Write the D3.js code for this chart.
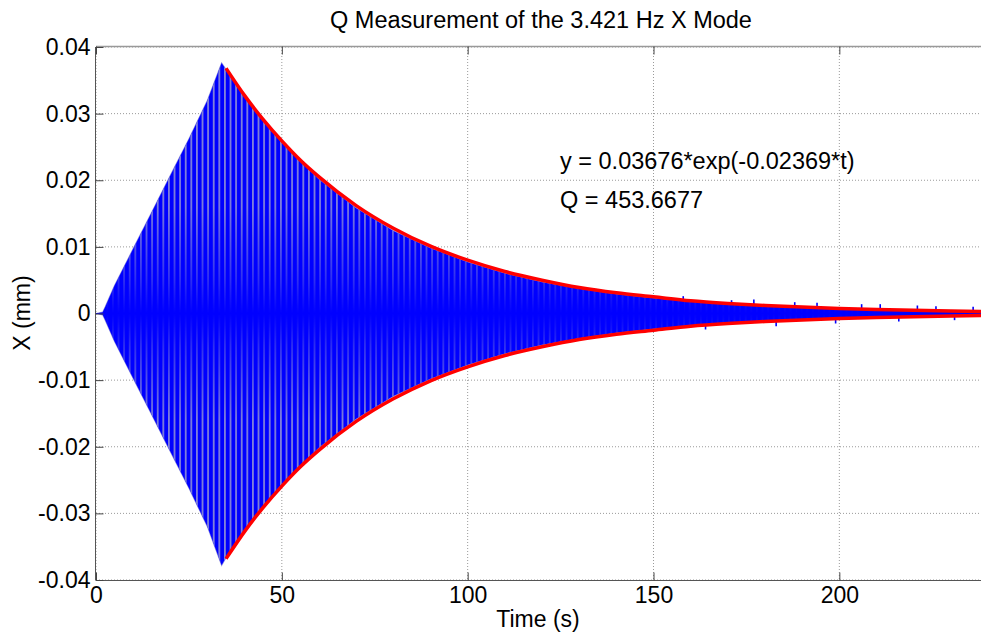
<!DOCTYPE html>
<html><head><meta charset="utf-8">
<script src="https://cdn.jsdelivr.net/npm/d3@7"></script>
<style>
html,body{margin:0;padding:0;background:#fff;overflow:hidden}
text{font-family:"Liberation Sans",Arial,sans-serif;fill:#000}
</style></head>
<body>
<svg id="chart" width="981" height="635"></svg>
<script>
// ---- data ----
const title = "Q Measurement of the 3.421 Hz X Mode";
const xLabel = "Time (s)";
const yLabel = "X (mm)";
const fitText = "y = 0.03676*exp(-0.02369*t)";
const qText = "Q = 453.6677";
const xTicks = [0, 50, 100, 150, 200];
const xTickLabels = ["0", "50", "100", "150", "200"];
const yTicks = [-0.04, -0.03, -0.02, -0.01, 0, 0.01, 0.02, 0.03, 0.04];
const yTickLabels = ["-0.04", "-0.03", "-0.02", "-0.01", "0", "0.01", "0.02", "0.03", "0.04"];

// envelope of the measured (blue) oscillation, mm
const envTime  = [0, 1.8, 2.5, 5, 10, 15, 20, 25, 30, 33.8, 35, 40, 50, 60, 70, 80, 90, 100, 110, 120, 130, 140, 150, 160, 170, 180, 190, 200, 220, 240];
const envUpper = [0, 0.0002, 0.0010, 0.0042, 0.0097, 0.0152, 0.0207, 0.0262, 0.0320, 0.0376, 0.0366, 0.0325, 0.0256, 0.0201, 0.0158, 0.0124, 0.0098, 0.0077, 0.0060, 0.0047, 0.0037, 0.0029, 0.0023, 0.0018, 0.0014, 0.0011, 0.0009, 0.0007, 0.0005, 0.0004];
const envLower = [0, -0.0002, -0.0010, -0.0042, -0.0097, -0.0152, -0.0207, -0.0262, -0.0320, -0.0378, -0.0366, -0.0325, -0.0256, -0.0201, -0.0158, -0.0124, -0.0098, -0.0077, -0.0060, -0.0047, -0.0037, -0.0029, -0.0023, -0.0018, -0.0014, -0.0011, -0.0009, -0.0007, -0.0005, -0.0004];

// noise spikes visible in the tail
const spikeTime  = [158, 164, 171, 177, 183, 188, 194, 199, 206, 211, 216, 221, 226, 231, 236];
const spikeValue = [0.0026, -0.0024, 0.0020, 0.0021, -0.0019, 0.0017, 0.0016, -0.0015, 0.0014, 0.0014, -0.0012, 0.0012, 0.0011, -0.0010, 0.0010];

// fitted exponential envelope (red), mm
const fitTime  = [35, 40, 45, 50, 55, 60, 70, 80, 90, 100, 110, 120, 130, 140, 150, 160, 170, 180, 190, 200, 210, 220, 230, 240];
const fitUpper = [0.0368, 0.0327, 0.0291, 0.0259, 0.0230, 0.0205, 0.0162, 0.0128, 0.0101, 0.0080, 0.0063, 0.0050, 0.0039, 0.0031, 0.0025, 0.0019, 0.0015, 0.0012, 0.00096, 0.00076, 0.00060, 0.00047, 0.00037, 0.00029];

// ---- drawing ----
const svg = d3.select("#chart");
const L = 96, T = 47, B = 580, R = 988;
const x = d3.scaleLinear().domain([0, 240]).range([L, R]);
const y = d3.scaleLinear().domain([-0.04, 0.04]).range([B, T]);

const defs = svg.append("defs");
defs.append("clipPath").attr("id", "plotclip").append("rect")
  .attr("x", L).attr("y", T).attr("width", R - L).attr("height", B - T);
const pat = defs.append("pattern").attr("id", "stripes")
  .attr("patternUnits", "userSpaceOnUse").attr("width", 5.6).attr("height", 10);
pat.append("rect").attr("x", 0).attr("width", 1.8).attr("height", 10).attr("fill", "#8585d8");
// vertical fade of stripes towards zero line
const grad = defs.append("linearGradient").attr("id", "fade")
  .attr("gradientUnits", "userSpaceOnUse").attr("x1", 0).attr("x2", 0).attr("y1", T).attr("y2", B);
[[0, 1], [0.3, 0.95], [0.44, 0.35], [0.5, 0], [0.56, 0.35], [0.7, 0.95], [1, 1]].forEach(([o, a]) =>
  grad.append("stop").attr("offset", o).attr("stop-color", "#fff").attr("stop-opacity", a));
defs.append("mask").attr("id", "fademask").attr("maskUnits", "userSpaceOnUse")
  .attr("x", 0).attr("y", 0).attr("width", 981).attr("height", 635)
  .append("rect").attr("x", L).attr("y", T).attr("width", R - L).attr("height", B - T).attr("fill", "url(#fade)");

// grid
const grid = svg.append("g");
xTicks.forEach(t => grid.append("line").attr("x1", x(t)).attr("x2", x(t)).attr("y1", T).attr("y2", B)
  .attr("stroke", "#9a9a9a").attr("stroke-dasharray", "1,2").attr("stroke-width", 1));
yTicks.forEach(t => grid.append("line").attr("x1", L).attr("x2", R).attr("y1", y(t)).attr("y2", y(t))
  .attr("stroke", "#9a9a9a").attr("stroke-dasharray", "1,2").attr("stroke-width", 1));

const plot = svg.append("g").attr("clip-path", "url(#plotclip)");
const idx = d3.range(envTime.length);
const envArea = d3.area().x(i => x(envTime[i])).y0(i => y(envLower[i])).y1(i => y(envUpper[i]));

// light fringe at the envelope edge
plot.append("path").datum(idx).attr("d", envArea)
  .attr("fill", "#8a8ad8").attr("stroke", "#9a9ae0").attr("stroke-width", 1.2);
// solid fill
plot.append("path").datum(idx).attr("d", envArea).attr("fill", "#0000ff");
// stripes (aliasing look of the dense oscillation)
plot.append("g").attr("mask", "url(#fademask)")
  .append("path").datum(idx).attr("d", envArea).attr("fill", "url(#stripes)");
// thin baseline before the excitation
plot.append("path").datum(idx)
  .attr("d", d3.line().x(i => x(envTime[i])).y(i => y((envUpper[i] + envLower[i]) / 2)))
  .attr("fill", "none").attr("stroke", "#0000ff").attr("stroke-width", 1.2);
// spikes
plot.selectAll("line.spike").data(d3.range(spikeTime.length)).join("line").attr("class", "spike")
  .attr("x1", i => x(spikeTime[i])).attr("x2", i => x(spikeTime[i]))
  .attr("y1", y(0)).attr("y2", i => y(spikeValue[i]))
  .attr("stroke", "#0000ff").attr("stroke-width", 1.6);

// fit curves
const fidx = d3.range(fitTime.length);
plot.append("path").datum(fidx)
  .attr("d", d3.line().curve(d3.curveMonotoneX).x(i => x(fitTime[i])).y(i => y(fitUpper[i])))
  .attr("fill", "none").attr("stroke", "#ff0000").attr("stroke-width", 3.5);
plot.append("path").datum(fidx)
  .attr("d", d3.line().curve(d3.curveMonotoneX).x(i => x(fitTime[i])).y(i => y(-fitUpper[i])))
  .attr("fill", "none").attr("stroke", "#ff0000").attr("stroke-width", 3.5);

// axes box lines
const ax = svg.append("g").attr("stroke", "#555").attr("stroke-width", 1);
ax.append("line").attr("x1", L).attr("x2", R).attr("y1", B + 0.5).attr("y2", B + 0.5);
ax.append("line").attr("x1", L).attr("x2", R).attr("y1", T - 0.5).attr("y2", T - 0.5).attr("stroke", "#999").attr("stroke-width", 1.5);
ax.append("line").attr("x1", L - 0.5).attr("x2", L - 0.5).attr("y1", T).attr("y2", B);

// axes via d3 (ticks inward)
const xAxis = d3.axisBottom(x).tickValues(xTicks).tickFormat((d, i) => xTickLabels[i]).tickSize(-8).tickPadding(6);
const gx = svg.append("g").attr("transform", `translate(0,${B + 0.5})`).call(xAxis);
const xAxisTop = d3.axisTop(x).tickValues(xTicks).tickFormat("").tickSize(-8);
const gxt = svg.append("g").attr("transform", `translate(0,${T - 0.5})`).call(xAxisTop);
const yAxis = d3.axisLeft(y).tickValues(yTicks).tickFormat((d, i) => yTickLabels[i]).tickSize(-8).tickPadding(5);
const gy = svg.append("g").attr("transform", `translate(${L - 0.5},0)`).call(yAxis);
[gx, gxt, gy].forEach(g => {
  g.select(".domain").remove();
  g.selectAll(".tick line").attr("stroke", "#444");
  g.selectAll(".tick text").attr("font-size", 23).attr("font-family", '"Liberation Sans", Arial, sans-serif').attr("fill", "#000");
});

// texts
svg.append("text").attr("x", 541).attr("y", 28).attr("text-anchor", "middle").attr("font-size", 23.5).text(title);
svg.append("text").attr("x", 538).attr("y", 627).attr("text-anchor", "middle").attr("font-size", 23).text(xLabel);
svg.append("text").attr("transform", "translate(30,313) rotate(-90)").attr("text-anchor", "middle").attr("font-size", 23).text(yLabel);
svg.append("text").attr("x", 560).attr("y", 169).attr("font-size", 23.5).text(fitText);
svg.append("text").attr("x", 560).attr("y", 208).attr("font-size", 23.5).text(qText);
</script>
</body></html>
